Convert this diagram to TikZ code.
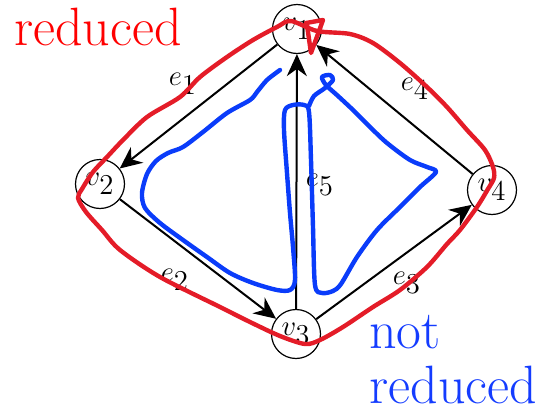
\documentclass[tikz,border=0pt]{standalone}
\usetikzlibrary{arrows.meta}
\definecolor{penred}{RGB}{228,28,40}
\definecolor{penblue}{RGB}{10,60,250}
\definecolor{txtred}{RGB}{255,0,0}
\definecolor{txtblue}{RGB}{20,60,255}
\begin{document}
\begin{tikzpicture}[x=0.5pt, y=-0.5pt, >={Stealth[length=11pt,width=10pt]},
    vert/.style={draw, circle, line width=0.6pt, minimum size=24.5pt, inner sep=0pt, font=\fontsize{14}{16}\selectfont},
    lbl/.style={inner sep=0pt, font=\fontsize{14}{16}\selectfont},
    arr/.style={->, line width=1pt},
    pen/.style={line width=2.2pt, line cap=round, line join=round},
    note/.style={inner sep=0pt, font=\fontsize{27}{27.5}\selectfont}]
  \useasboundingbox (0,0) rectangle (542,413);
  % graph
  \node[vert] (v1) at (297,29)  {$v_{\textstyle 1}$};
  \node[vert] (v2) at (100,184) {$v_{\textstyle 2}$};
  \node[vert] (v3) at (296,334) {$v_{\textstyle 3}$};
  \node[vert] (v4) at (492,190) {$v_{\textstyle 4}$};
  \node[lbl] (e1) at (183,84)  {$e_{\textstyle 1}$};
  \node[lbl] (e2) at (175,280) {$e_{\textstyle 2}$};
  \node[lbl] (e3) at (407,283) {$e_{\textstyle 3}$};
  \node[lbl] (e4) at (415,89)  {$e_{\textstyle 4}$};
  \node[lbl] (e5) at (320,185) {$e_{\textstyle 5}$};
  \draw[arr] (v1) -- (v2);
  \draw[arr] (v2) -- (v3);
  \draw[arr] (v3) -- (v4);
  \draw[arr] (v4) -- (v1);
  \draw[arr] (v3) -- (v1);
  % red: reduced
  \draw[pen, penred] plot[smooth cycle, tension=0.5] coordinates {(253,40) (277,27) (291,21) (317,31) (350,34)
    (373,43) (400,63) (427,87) (447,107) (467,130) (485,150) (493,167) (494,178) (488,189) (477,207)
    (460,230) (447,244) (427,267) (400,290) (373,307) (343,327) (320,340) (305,344) (280,336)
    (250,322) (220,307) (160,277) (120,250) (102,230) (86,212) (78,198) (82,189) (93,172) (107,157)
    (123,140) (147,117) (180,97) (200,77) (227,57)};
  \draw[pen, penred] (306,23) -- (323,20) -- (311,53) -- (307,25);
  % blue: not reduced
  \draw[pen, penblue] plot[smooth, tension=0.5] coordinates {(280,70) (267,80) (257,92) (250,100) (227,113)
    (203,132) (183,147) (168,153) (156,161) (147,174) (142,193) (145,208) (160,223) (183,240) (207,257)
    (230,273) (253,283) (277,290) (290,290) (295,280) (293,247) (290,213) (287,173) (284,130) (285,110)
    (293,105) (304,105) (309,112) (311,160) (313,227) (315,285) (322,293) (333,291) (341,284) (357,257)
    (377,230) (400,207) (420,187) (436,172) (427,167) (410,160) (387,143) (370,127) (353,110) (338,96)
    (326,85) (322,77) (330,75) (333,80) (325,88) (314,96) (309,106)};
  % notes
  \node[note, text=txtred, anchor=base] (red) at (98,45) {reduced};
  \node[note, text=txtblue, anchor=base west, align=left] (blue) at (369,403) {not\\reduced};
\end{tikzpicture}
\end{document}
